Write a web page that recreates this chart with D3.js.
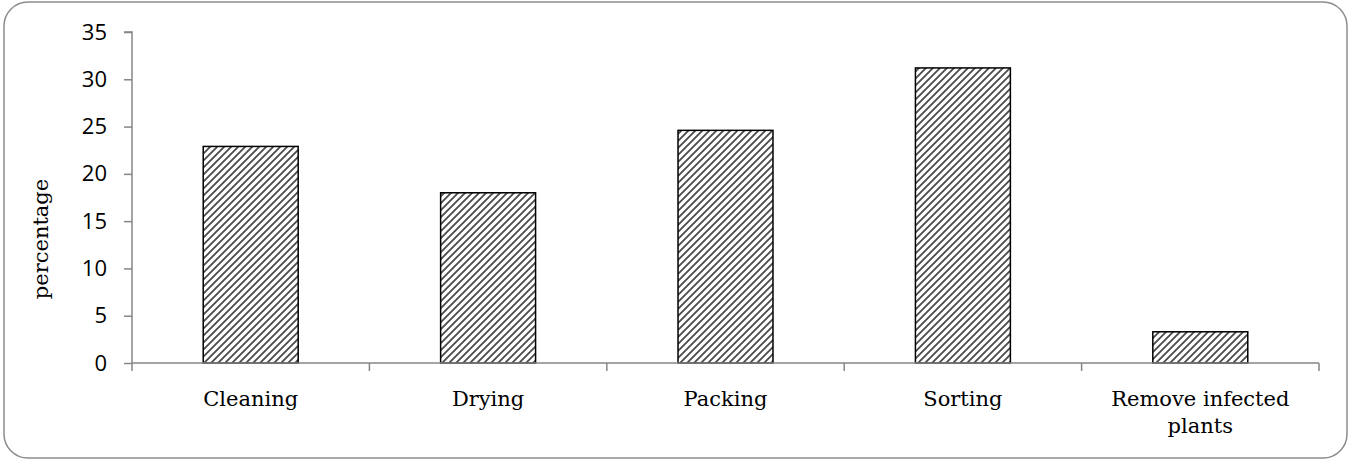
<!DOCTYPE html>
<html><head><meta charset="utf-8">
<script src="https://cdn.jsdelivr.net/npm/d3@7"></script>
<style>html,body{margin:0;padding:0;background:#fff;}svg{display:block;}</style>
</head><body>
<svg id="chart" width="1351" height="461"></svg>
<script>
const categories = ["Cleaning", "Drying", "Packing", "Sorting", "Remove infected plants"];
const values = [22.9, 18.0, 24.6, 31.2, 3.3];
const yTicks = [0, 5, 10, 15, 20, 25, 30, 35];
const yLabel = "percentage";

const svg = d3.select("#chart");
const W = 1351, H = 461;
const m = {left: 132, right: 32, top: 32, bottom: 98};

svg.append("rect").attr("x", 4).attr("y", 2).attr("width", W - 8).attr("height", H - 5)
  .attr("rx", 24).attr("ry", 24).attr("fill", "#fff").attr("stroke", "#8c8c8c").attr("stroke-width", 1.5);

const defs = svg.append("defs");
const pat = defs.append("pattern").attr("id", "hatch").attr("patternUnits", "userSpaceOnUse")
  .attr("width", 7).attr("height", 7);
pat.append("rect").attr("width", 7).attr("height", 7).attr("fill", "#fff");
pat.append("path").attr("d", "M-1,8 L8,-1 M-2,2 L2,-2 M5,9 L9,5")
  .attr("stroke", "#4a4a4a").attr("stroke-width", 1.8);

const x = d3.scaleBand().domain(categories).range([m.left, W - m.right]).paddingInner(0.6).paddingOuter(0.3);
const y = d3.scaleLinear().domain([0, 35]).range([H - m.bottom, m.top]);

// bars
svg.selectAll("rect.bar").data(values).join("rect").attr("class", "bar")
  .attr("x", (d, i) => x(categories[i]))
  .attr("y", d => y(d))
  .attr("width", x.bandwidth())
  .attr("height", d => y(0) - y(d))
  .attr("fill", "url(#hatch)")
  .attr("stroke", "#000").attr("stroke-width", 1.5);

// y axis
const yAxis = d3.axisLeft(y).tickValues(yTicks).tickSize(8).tickPadding(17).tickFormat(d3.format("d"));
const gy = svg.append("g").attr("transform", `translate(${m.left},0)`).call(yAxis);
gy.select(".domain").attr("stroke", "#868686").attr("stroke-width", 1.5).attr("d", `M-8,${y(35)}H0V${y(0)}`);
gy.selectAll(".tick line").attr("stroke", "#868686").attr("stroke-width", 1.5);
gy.selectAll(".tick text").attr("font-family", "'Open Sans', sans-serif").attr("font-size", 22).attr("fill", "#000");

// x axis with ticks at band boundaries
const bounds = d3.range(categories.length + 1).map(i => m.left + i * (W - m.right - m.left) / categories.length);
const gx = svg.append("g");
gx.append("line").attr("x1", m.left).attr("x2", W - m.right).attr("y1", y(0)).attr("y2", y(0))
  .attr("stroke", "#868686").attr("stroke-width", 1.5);
gx.selectAll("line.t").data(bounds).join("line").attr("class", "t")
  .attr("x1", d => d).attr("x2", d => d).attr("y1", y(0)).attr("y2", y(0) + 8)
  .attr("stroke", "#868686").attr("stroke-width", 1.5);

// category labels
const labelLines = {"Remove infected plants": ["Remove infected", "plants"]};
categories.forEach(c => {
  const lines = labelLines[c] || [c];
  const t = svg.append("text").attr("text-anchor", "middle")
    .attr("font-family", "'DejaVu Serif', serif").attr("font-size", 21).attr("fill", "#000");
  lines.forEach((ln, i) => {
    t.append("tspan").attr("x", x(c) + x.bandwidth() / 2).attr("y", 406 + i * 27).text(ln);
  });
});

// y label
svg.append("text").attr("transform", `translate(48,239) rotate(-90)`).attr("text-anchor", "middle")
  .attr("font-family", "'DejaVu Serif', serif").attr("font-size", 21).attr("fill", "#000").text(yLabel);
</script>
</body></html>
